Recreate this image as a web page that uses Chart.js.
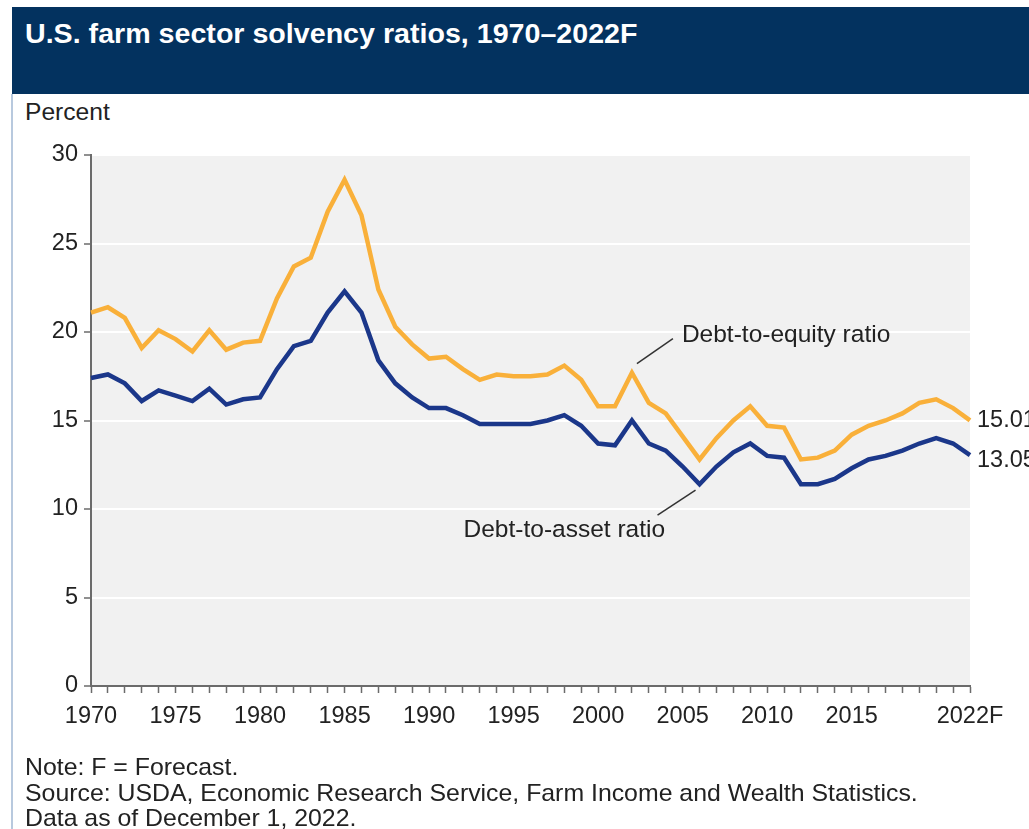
<!DOCTYPE html>
<html>
<head>
<meta charset="utf-8">
<script src="https://cdn.jsdelivr.net/npm/chart.js@4.4.0/dist/chart.umd.min.js"></script>
<style>
  body { margin: 0; background: #fff; font-family: "Liberation Sans", Arial, sans-serif; }
  #wrap { position: relative; width: 1029px; height: 829px; overflow: hidden; }
  #bar { position: absolute; left: 12px; top: 7px; right: 0; height: 87px; background: #03325f; }
  #title { position: absolute; left: 13px; top: 12px; color: #fff; font-weight: bold; font-size: 27px;
           white-space: nowrap; transform-origin: left center; transform: scaleX(1.06); }
  #edge { position: absolute; left: 11px; top: 94px; width: 2px; bottom: 0; background: #b8c9de; }
  #unit { position: absolute; left: 25px; top: 99px; font-size: 23px; color: #222;
          transform-origin: left center; transform: scaleX(1.07); }
  #notes { position: absolute; left: 25px; top: 754px; font-size: 24px; line-height: 25.5px; color: #222; white-space: nowrap;
           transform-origin: left top; transform: scaleX(1.035); }
  canvas { position: absolute; left: 0; top: 0; }
</style>
</head>
<body>
<div id="wrap">
  <div id="bar"><div id="title">U.S. farm sector solvency ratios, 1970–2022F</div></div>
  <div id="edge"></div>
  <div id="unit">Percent</div>
  <canvas id="solvencyChart" width="1029" height="829"></canvas>
  <div id="notes">Note: F = Forecast.<br>Source: USDA, Economic Research Service, Farm Income and Wealth Statistics.<br>Data as of December 1, 2022.</div>
</div>
<script>
const years = [];
for (let y = 1970; y <= 2022; y++) years.push(String(y));

const tickLabels = ['1970', '1975', '1980', '1985', '1990', '1995', '2000', '2005', '2010', '2015', '2022F'];

const debtToEquity = [
  21.1, 21.4, 20.8, 19.1, 20.1, 19.6, 18.9, 20.1, 19.0, 19.4,
  19.5, 21.9, 23.7, 24.2, 26.8, 28.6, 26.6, 22.4, 20.3, 19.3,
  18.5, 18.6, 17.9, 17.3, 17.6, 17.5, 17.5, 17.6, 18.1, 17.3,
  15.8, 15.8, 17.7, 16.0, 15.4, 14.1, 12.8, 14.0, 15.0, 15.8,
  14.7, 14.6, 12.8, 12.9, 13.3, 14.2, 14.7, 15.0, 15.4, 16.0,
  16.2, 15.7, 15.01
];

const debtToAsset = [
  17.4, 17.6, 17.1, 16.1, 16.7, 16.4, 16.1, 16.8, 15.9, 16.2,
  16.3, 17.9, 19.2, 19.5, 21.1, 22.3, 21.1, 18.4, 17.1, 16.3,
  15.7, 15.7, 15.3, 14.8, 14.8, 14.8, 14.8, 15.0, 15.3, 14.7,
  13.7, 13.6, 15.0, 13.7, 13.3, 12.4, 11.4, 12.4, 13.2, 13.7,
  13.0, 12.9, 11.4, 11.4, 11.7, 12.3, 12.8, 13.0, 13.3, 13.7,
  14.0, 13.7, 13.05
];

const textColor = '#222';
const axisColor = '#6b6b6b';
const fontFamily = '"Liberation Sans", Arial, sans-serif';

// gray plot background
const plotBackground = {
  id: 'plotBackground',
  beforeDraw(chart) {
    const { ctx, chartArea: a } = chart;
    ctx.save();
    ctx.fillStyle = '#f1f1f1';
    ctx.fillRect(a.left, a.top, a.right - a.left, a.bottom - a.top);
    ctx.restore();
  }
};

// series labels, leader lines and end values
const seriesLabels = {
  id: 'seriesLabels',
  afterDatasetsDraw(chart) {
    const { ctx } = chart;
    const x = chart.scales.x, y = chart.scales.y;
    ctx.save();
    ctx.font = '24.5px ' + fontFamily;
    ctx.fillStyle = textColor;
    ctx.textBaseline = 'middle';
    ctx.strokeStyle = '#333';
    ctx.lineWidth = 1.5;

    // Debt-to-equity, pointing at 2002
    const ex = x.getPixelForValue(years.indexOf('2002'));
    const ey = y.getPixelForValue(debtToEquity[years.indexOf('2002')]);
    ctx.beginPath();
    ctx.moveTo(ex + 5, ey - 9);
    ctx.lineTo(ex + 41, ey - 34);
    ctx.stroke();
    ctx.textAlign = 'left';
    ctx.fillText('Debt-to-equity ratio', ex + 50, ey - 37);

    // Debt-to-asset, pointing at 2006
    const ax = x.getPixelForValue(years.indexOf('2006'));
    const ay = y.getPixelForValue(debtToAsset[years.indexOf('2006')]);
    ctx.beginPath();
    ctx.moveTo(ax - 4, ay + 6);
    ctx.lineTo(ax - 42, ay + 31);
    ctx.stroke();
    ctx.fillText('Debt-to-asset ratio', ax - 236, ay + 46);

    // end values
    ctx.font = '23.5px ' + fontFamily;
    const last = years.length - 1;
    const lx = x.getPixelForValue(last) + 7;
    ctx.fillText(debtToEquity[last].toFixed(2), lx, y.getPixelForValue(debtToEquity[last]));
    ctx.fillText(debtToAsset[last].toFixed(2), lx, y.getPixelForValue(debtToAsset[last]) + 6);
    ctx.restore();
  }
};

const ctx = document.getElementById('solvencyChart').getContext('2d');

const solvencyChart = new Chart(ctx, {
  type: 'line',
  data: {
    labels: years,
    datasets: [
      {
        label: 'Debt-to-equity ratio',
        data: debtToEquity,
        borderColor: '#f9b03a',
        borderWidth: 4.5,
        pointRadius: 0,
        tension: 0
      },
      {
        label: 'Debt-to-asset ratio',
        data: debtToAsset,
        borderColor: '#1b378a',
        borderWidth: 4.5,
        pointRadius: 0,
        tension: 0
      }
    ]
  },
  options: {
    responsive: false,
    animation: false,
    layout: { padding: { left: 0, top: 155, right: 59, bottom: 93 } },
    plugins: {
      legend: { display: false },
      tooltip: { enabled: false }
    },
    scales: {
      x: {
        afterFit(scale) { scale.height = 50; },
        grid: { drawOnChartArea: false, tickColor: axisColor, tickLength: 7, tickWidth: 1.5 },
        border: { color: axisColor, width: 2 },
        ticks: {
          autoSkip: false,
          maxRotation: 0,
          padding: 9,
          color: textColor,
          font: { size: 23.5, family: fontFamily },
          callback(value) {
            const lab = years[value];
            if (lab === '2022') return '2022F';
            return tickLabels.includes(lab) ? lab : '';
          }
        }
      },
      y: {
        min: 0,
        max: 30,
        afterFit(scale) { scale.width = 91; },
        grid: { color: '#ffffff', lineWidth: 2, tickColor: axisColor, tickLength: 7, tickWidth: 1.5 },
        border: { color: axisColor, width: 2 },
        ticks: {
          stepSize: 5,
          padding: 6,
          color: textColor,
          font: { size: 23.5, family: fontFamily }
        }
      }
    }
  },
  plugins: [plotBackground, seriesLabels]
});
</script>
</body>
</html>
